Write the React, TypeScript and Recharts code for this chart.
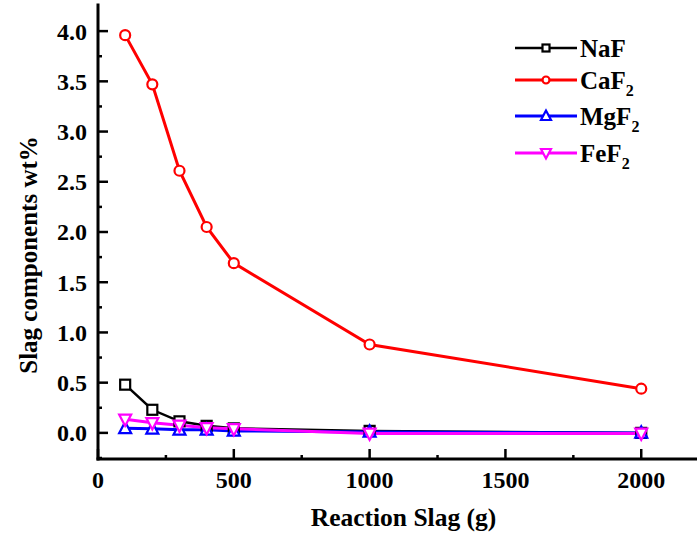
import { LineChart, Line, XAxis, YAxis } from 'recharts';

const slagMass = [100, 200, 300, 400, 500, 1000, 2000];
const naF = [0.48, 0.23, 0.115, 0.07, 0.045, 0.02, 0.0];
const caF2 = [3.96, 3.47, 2.61, 2.05, 1.69, 0.88, 0.44];
const mgF2 = [0.045, 0.04, 0.03, 0.03, 0.02, 0.01, 0.0];
const feF2 = [0.135, 0.1, 0.075, 0.05, 0.04, -0.005, -0.005];

const xMajor = [0, 500, 1000, 1500, 2000];
const xMinor = [250, 750, 1250, 1750];
const yMajor = [0, 0.5, 1, 1.5, 2, 2.5, 3, 3.5, 4];
const yMinor = [-0.25, 0.25, 0.75, 1.25, 1.75, 2.25, 2.75, 3.25, 3.75];

const data = slagMass.map((m, i) => ({
  mass: m,
  NaF: naF[i],
  CaF2: caF2[i],
  MgF2: mgF2[i],
  FeF2: feF2[i],
}));

const FONT = "'Liberation Serif', 'Times New Roman', serif";
const txt = { fontFamily: FONT, fontWeight: 'bold' as const };

const series = [
  { key: 'NaF', color: '#000000', shape: 'square', width: 2.5 },
  { key: 'CaF2', color: '#ff0000', shape: 'circle', width: 3 },
  { key: 'MgF2', color: '#0000ff', shape: 'up', width: 3 },
  { key: 'FeF2', color: '#ff00ff', shape: 'down', width: 3 },
];

function marker(shape: string, cx: number, cy: number, color: string, s: number, key?: string) {
  const common = { key, fill: '#fff', stroke: color, strokeWidth: 2.2 };
  if (shape === 'square') return <rect {...common} x={cx - s / 2} y={cy - s / 2} width={s} height={s} />;
  if (shape === 'circle') return <circle {...common} cx={cx} cy={cy} r={s / 2} />;
  if (shape === 'up')
    return <polygon {...common} points={`${cx},${cy - s * 0.55} ${cx - s / 2},${cy + s * 0.4} ${cx + s / 2},${cy + s * 0.4}`} />;
  return <polygon {...common} points={`${cx},${cy + s * 0.55} ${cx - s / 2},${cy - s * 0.4} ${cx + s / 2},${cy - s * 0.4}`} />;
}

const BottomTick = (props: any) => {
  const { x, y, payload } = props;
  const major = xMajor.includes(payload.value);
  return (
    <g>
      <line x1={x} x2={x} y1={y} y2={y - (major ? 10 : 4)} stroke="#000" strokeWidth={2.5} />
      {major && (
        <text x={x} y={y + 29} textAnchor="middle" fontSize={24} style={txt} fill="#000">
          {payload.value}
        </text>
      )}
    </g>
  );
};

const TopTick = (props: any) => {
  const { x, y } = props;
  return <line x1={x} x2={x} y1={y} y2={y + 3} stroke="#000" strokeWidth={2.5} />;
};

const LeftTick = (props: any) => {
  const { x, y, payload } = props;
  const major = yMajor.includes(payload.value);
  return (
    <g>
      <line x1={x} x2={x + (major ? 10 : 4)} y1={y} y2={y} stroke="#000" strokeWidth={2.5} />
      {major && (
        <text x={x - 11} y={y} dy="0.35em" textAnchor="end" fontSize={24} style={txt} fill="#000">
          {payload.value.toFixed(1)}
        </text>
      )}
    </g>
  );
};

const YTitle = (props: any) => {
  const vb = props.viewBox;
  const cx = 28;
  const cy = vb.y + vb.height / 2 + 23;
  return (
    <text x={cx} y={cy} transform={`rotate(-90 ${cx} ${cy})`} textAnchor="middle" dy="0.35em"
      fontSize={25} style={txt} fill="#000">
      Slag components wt%
    </text>
  );
};

const XTitle = (props: any) => {
  const vb = props.viewBox;
  return (
    <text x={vb.x + vb.width / 2 + 4} y={526} textAnchor="middle" fontSize={25.5} style={txt} fill="#000">
      Reaction Slag (g)
    </text>
  );
};

const legendRows = [48, 80, 116, 153];

const LegendBox = () => (
  <svg width={185} height={175} style={{ position: 'absolute', left: 512, top: 0 }}>
    {series.map((s, i) => {
      const y = legendRows[i];
      const m = s.key.match(/^(.*?)(\d)?$/)!;
      return (
        <g key={s.key}>
          <line x1={3} x2={65} y1={y} y2={y} stroke={s.color} strokeWidth={s.width} />
          {marker(s.shape, 34, y, s.color, s.shape === 'up' || s.shape === 'down' ? 10 : 7)}
          <text x={68} y={y + 8.5} fontSize={25} style={txt} fill="#000">
            {m[1]}
            {m[2] && <tspan fontSize={16} dy={7}>{m[2]}</tspan>}
          </text>
        </g>
      );
    })}
  </svg>
);

export default function App() {
  return (
    <div style={{ position: 'absolute', left: 0, top: 0, width: 697, height: 535, overflow: 'hidden', background: '#fff' }}>
      <LineChart width={701} height={535} data={data} margin={{ top: 5, right: 0, left: 0, bottom: 0 }}>
        <XAxis
          dataKey="mass"
          type="number"
          domain={[0, 2220]}
          ticks={[...xMajor, ...xMinor].sort((a, b) => a - b)}
          interval={0}
          tick={BottomTick}
          tickLine={false}
          tickSize={0}
          tickMargin={0}
          height={76}
          allowDataOverflow
          axisLine={{ stroke: '#000', strokeWidth: 3, strokeLinecap: 'square' }}
          label={{ content: XTitle }}
        />
        <XAxis
          xAxisId="top"
          orientation="top"
          dataKey="mass"
          type="number"
          domain={[0, 2220]}
          ticks={[...xMajor, ...xMinor].sort((a, b) => a - b)}
          interval={0}
          tick={TopTick}
          tickLine={false}
          tickSize={0}
          tickMargin={0}
          height={0}
          allowDataOverflow
          axisLine={{ stroke: '#000', strokeWidth: 3, strokeLinecap: 'square' }}
        />
        <YAxis
          type="number"
          domain={[-0.26, 4.26]}
          ticks={[...yMajor, ...yMinor].sort((a, b) => a - b)}
          interval={0}
          tick={LeftTick}
          tickLine={false}
          tickSize={0}
          tickMargin={0}
          width={98}
          allowDataOverflow
          axisLine={{ stroke: '#000', strokeWidth: 3, strokeLinecap: 'square' }}
          label={{ content: YTitle }}
        />
        {series.map((s) => (
          <Line
            key={s.key}
            dataKey={s.key}
            stroke={s.color}
            strokeWidth={s.width}
            isAnimationActive={false}
            dot={(p: any) => marker(s.shape, p.cx, p.cy, s.color, s.shape === 'up' || s.shape === 'down' ? 12 : 10, `${s.key}-${p.index}`)}
            activeDot={false}
          />
        ))}
      </LineChart>
      <LegendBox />
    </div>
  );
}
